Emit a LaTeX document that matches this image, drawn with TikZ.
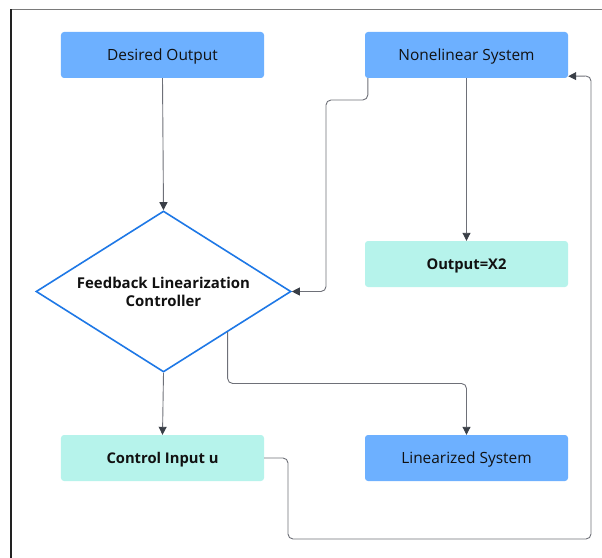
\documentclass[tikz,border=0pt]{standalone}
\usepackage{fontspec}
\setmainfont{Open Sans}
\usetikzlibrary{arrows.meta,shapes.geometric,calc}
\definecolor{boxblue}{HTML}{6DB0FF}
\definecolor{boxteal}{HTML}{B6F3EB}
\definecolor{edgeblue}{HTML}{1E78E6}
\definecolor{wire}{HTML}{6E7078}
\definecolor{tipc}{HTML}{3A3F47}
\definecolor{inkc}{HTML}{111111}
\definecolor{frametop}{HTML}{7A7A7A}
\definecolor{frameleft}{HTML}{222222}

\begin{document}
\begin{tikzpicture}[x=1bp,y=-1bp,
  blockbox/.style={rectangle,rounded corners=3bp,minimum width=203bp,minimum height=46bp,
    inner sep=0pt,text=inkc,text height=11bp,text depth=0pt,
    font=\fontsize{15.5}{18}\selectfont},
  bluebox/.style={blockbox,fill=boxblue},
  tealbox/.style={blockbox,fill=boxteal,font=\fontsize{14.8}{18}\selectfont\bfseries},
  decision/.style={diamond,draw=edgeblue,line width=1.6bp,fill=white,shape aspect=1.58,
    minimum width=255bp,minimum height=161bp,inner sep=0pt,align=center,text=inkc,
    font=\fontsize{15}{18}\selectfont\bfseries},
  link/.style={draw=wire,line width=0.9bp,rounded corners=5bp,
    -{Triangle[length=8bp,width=8bp,color=tipc]}}
]
\useasboundingbox (0,0) rectangle (602,558);

% page frame (top and left edges)
\draw[frametop,line width=1.5bp] (11,9.5) -- (602,9.5);
\draw[frameleft,line width=1.5bp] (11,9.5) -- (11,558);

% blocks
\node[bluebox] (des) at (162.5,55) {Desired Output};
\node[bluebox] (nls) at (466.5,55) {Nonelinear System};
\node[decision] (ctl) at (163.5,291.5) {Feedback Linearization\\Controller};
\node[tealbox] (out) at (466.5,264) {Output=X2};
\node[tealbox] (uin) at (162.5,458) {Control Input u};
\node[bluebox] (lin) at (466.5,458) {Linearized System};

% connectors
\draw[link] (des.south) -- (ctl.north);
\draw[link] ([xshift=3bp]nls.south west) |- (326,100) |- (ctl.east);
\draw[link] (nls.south) -- (out.north);
\draw[link] ($(ctl.east)!0.5!(ctl.south)$) |- (466.5,383.5) -- (lin.north);
\draw[link] (ctl.south) -- (uin.north);
\draw[link] (uin.east) -| (288,539) -| (591,76) -- ([yshift=2bp]nls.south east);
\end{tikzpicture}
\end{document}
